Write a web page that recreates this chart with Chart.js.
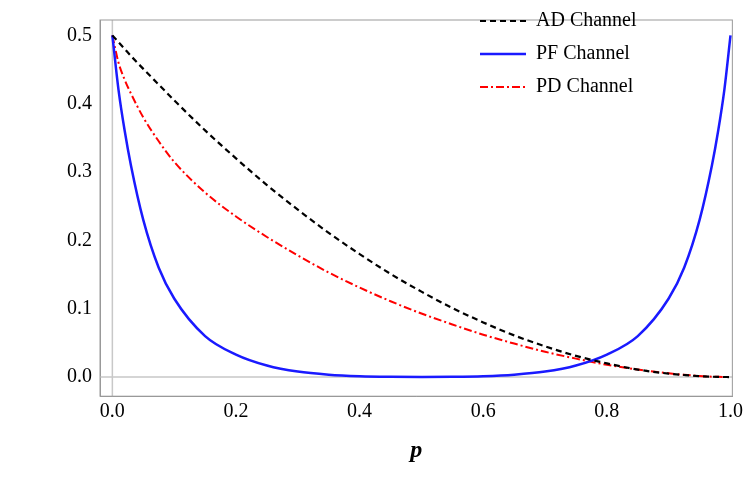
<!DOCTYPE html>
<html><head><meta charset="utf-8">
<script src="https://cdn.jsdelivr.net/npm/chart.js@4"></script>
<style>body{margin:0;background:#fff}#w{width:747px;height:481px}</style>
</head><body><div id="w"><canvas id="c"></canvas></div>
<script>
const pValues = [0,0.01,0.02,0.03,0.05,0.075,0.1,0.15,0.2,0.25,0.3,0.35,0.4,0.45,0.5,0.55,0.6,0.65,0.7,0.75,0.8,0.85,0.9,0.925,0.95,0.97,0.98,0.99,1.0];
const adValues = [0.5,0.49,0.48,0.47,0.451,0.428,0.405,0.361,0.32,0.281,0.245,0.211,0.18,0.151,0.125,0.101,0.08,0.061,0.045,0.031,0.02,0.011,0.005,0.003,0.0013,0.0005,0.0002,0.0001,0];
const pfValues = [0.5,0.42,0.36,0.31,0.23,0.16,0.115,0.06,0.033,0.017,0.008,0.0035,0.0013,0.0004,0.0001,0.0004,0.0013,0.0035,0.008,0.017,0.033,0.06,0.115,0.16,0.23,0.31,0.36,0.42,0.5];
const pdValues = [0.5,0.46,0.435,0.415,0.38,0.345,0.315,0.27,0.235,0.205,0.178,0.153,0.131,0.111,0.093,0.077,0.062,0.049,0.037,0.027,0.018,0.011,0.0055,0.0033,0.0016,0.0006,0.0003,0.0001,0];
const xTicks = [0,0.2,0.4,0.6,0.8,1.0];
const yTicks = [0,0.1,0.2,0.3,0.4,0.5];
const seriesNames = ['AD Channel','PF Channel','PD Channel'];

const pts = v => pValues.map((p,i)=>({x:p,y:v[i]}));
const font = {family:'Liberation Serif', size:20};
const legendPlugin = {id:'lg', afterDraw(ch){
  const ctx=ch.ctx; ctx.save();
  ch.data.datasets.forEach((d,i)=>{
    const y=21+i*33, x0=480, x1=526;
    ctx.strokeStyle=d.borderColor; ctx.lineWidth=d.borderWidth; ctx.setLineDash(d.borderDash||[]);
    ctx.beginPath(); ctx.moveTo(x0,y); ctx.lineTo(x1,y); ctx.stroke();
    ctx.setLineDash([]); ctx.fillStyle='#000'; ctx.font='20px Liberation Serif'; ctx.textBaseline='middle';
    ctx.fillText(d.label, 536, y);
  });
  ctx.restore();
}};
const refLines = {id:'ref', beforeDatasetsDraw(ch){
  const ctx=ch.ctx, xs=ch.scales.x, ys=ch.scales.y, a=ch.chartArea; ctx.save();
  ctx.strokeStyle='#c8c8c8'; ctx.lineWidth=1.5;
  ctx.beginPath(); ctx.moveTo(xs.getPixelForValue(0),a.top); ctx.lineTo(xs.getPixelForValue(0),a.bottom);
  ctx.moveTo(a.left,ys.getPixelForValue(0)); ctx.lineTo(a.right,ys.getPixelForValue(0)); ctx.stroke();
  ctx.strokeStyle='#999'; ctx.lineWidth=1; ctx.strokeRect(a.left,a.top,a.right-a.left,a.bottom-a.top);
  ctx.restore();
}};
new Chart(document.getElementById('c'),{
  type:'line',
  data:{datasets:[
    {label:seriesNames[0],data:pts(adValues),borderColor:'#000',borderWidth:2.2,borderDash:[6,4]},
    {label:seriesNames[1],data:pts(pfValues),borderColor:'#1a1aff',borderWidth:2.5},
    {label:seriesNames[2],data:pts(pdValues),borderColor:'#ff0000',borderWidth:2,borderDash:[8,3,2,3]}
  ]},
  options:{responsive:true,maintainAspectRatio:false,animation:false,
    elements:{point:{radius:0},line:{tension:0.4,cubicInterpolationMode:'monotone'}},
    layout:{padding:{top:-10,right:0,left:0,bottom:12}},
    plugins:{legend:{display:false},tooltip:{enabled:false}},
    scales:{
      x:{type:'linear',min:-0.02,max:1.003,
        afterBuildTicks(s){s.ticks=xTicks.map(v=>({value:v}));},
        ticks:{font,color:'#000',maxRotation:0,callback:v=>v.toFixed(1),padding:4},
        grid:{display:false,drawTicks:true,tickLength:0},border:{color:'#999'},
        title:{display:true,text:'p',font:{family:'Liberation Serif',size:24,weight:'bold',style:'italic'},color:'#000',padding:{top:8}}},
      y:{min:-0.028,max:0.5225,
        afterBuildTicks(s){s.ticks=yTicks.map(v=>({value:v}));},
        afterFit(s){s.width=100;},
        ticks:{font,color:'#000',callback:v=>v.toFixed(1),padding:8},
        grid:{display:false,tickLength:0},border:{color:'#999'}}
    }},
  plugins:[refLines,legendPlugin]
});
</script></body></html>
